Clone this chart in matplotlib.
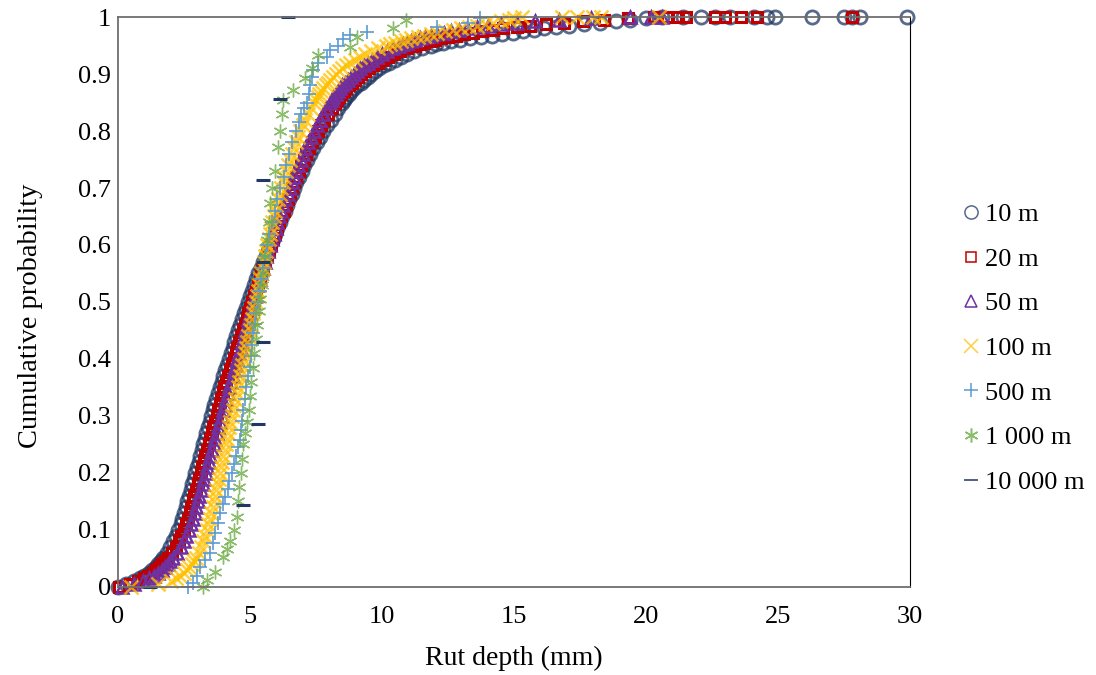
import matplotlib
matplotlib.use("Agg")
import matplotlib.pyplot as plt

# probability levels shared by the four dense series (10 m, 20 m, 50 m, 100 m)
prob = [0.0, 0.005, 0.01, 0.015, 0.02, 0.025, 0.03, 0.035, 0.04, 0.045,
        0.05, 0.06, 0.07, 0.08, 0.09, 0.10, 0.11, 0.12, 0.13, 0.14,
        0.15, 0.16, 0.17, 0.18, 0.19, 0.20, 0.21, 0.22, 0.23, 0.24,
        0.25, 0.26, 0.27, 0.28, 0.29, 0.30, 0.31, 0.32, 0.33, 0.34,
        0.35, 0.36, 0.37, 0.38, 0.39, 0.40, 0.41, 0.42, 0.43, 0.44,
        0.45, 0.46, 0.47, 0.48, 0.49, 0.50, 0.51, 0.52, 0.53, 0.54,
        0.55, 0.56, 0.57, 0.58, 0.59, 0.60, 0.61, 0.62, 0.63, 0.64,
        0.65, 0.66, 0.67, 0.68, 0.69, 0.70, 0.71, 0.72, 0.73, 0.74,
        0.75, 0.76, 0.77, 0.78, 0.79, 0.80, 0.81, 0.82, 0.83, 0.84, 0.85,
        0.855, 0.86, 0.865, 0.87, 0.875, 0.88, 0.885, 0.89, 0.895, 0.90,
        0.905, 0.91, 0.915, 0.92, 0.925, 0.93, 0.935, 0.94, 0.945, 0.95,
        0.9525, 0.955, 0.9575, 0.96, 0.9625, 0.965, 0.9675, 0.97, 0.9725, 0.975,
        0.9775, 0.98, 0.9825, 0.985, 0.9875, 0.99, 0.9925, 0.995, 0.9975, 1.0]

rut_10m = [0.0, 0.3, 0.6, 0.82, 1.0, 1.16, 1.3, 1.42, 1.52, 1.61,
           1.70, 1.85, 1.98, 2.10, 2.20, 2.29, 2.37, 2.44, 2.51, 2.57,
           2.63, 2.69, 2.75, 2.81, 2.87, 2.93, 2.99, 3.05, 3.11, 3.17,
           3.23, 3.29, 3.35, 3.41, 3.47, 3.53, 3.59, 3.65, 3.71, 3.78,
           3.85, 3.92, 3.99, 4.06, 4.13, 4.20, 4.27, 4.34, 4.41, 4.48,
           4.55, 4.62, 4.69, 4.76, 4.84, 4.92, 5.00, 5.08, 5.16, 5.24,
           5.32, 5.41, 5.50, 5.59, 5.68, 5.77, 5.86, 5.95, 6.04, 6.13,
           6.22, 6.31, 6.40, 6.49, 6.58, 6.67, 6.76, 6.86, 6.96, 7.06,
           7.17, 7.28, 7.40, 7.52, 7.65, 7.78, 7.92, 8.06, 8.20, 8.35, 8.50,
           8.57, 8.65, 8.74, 8.84, 8.95, 9.07, 9.20, 9.33, 9.46, 9.60,
           9.75, 9.90, 10.08, 10.28, 10.50, 10.72, 10.95, 11.20, 11.50, 11.85,
           12.05, 12.30, 12.60, 12.95, 13.35, 13.75, 14.15, 14.55, 14.95, 15.35,
           15.75, 16.15, 16.60, 17.10, 17.65, 18.25, 18.85, 19.40, 20.00, 20.60]
tail_10m = [21.4, 22.1, 22.6, 23.2, 24.1, 24.6, 24.9, 26.3, 27.5, 27.8, 28.1, 29.9]

rut_20m = [0.05, 0.45, 0.75, 0.97, 1.15, 1.31, 1.45, 1.57, 1.68, 1.79,
           1.90, 2.05, 2.18, 2.30, 2.40, 2.49, 2.57, 2.64, 2.71, 2.77,
           2.83, 2.89, 2.95, 3.01, 3.07, 3.13, 3.19, 3.25, 3.31, 3.37,
           3.43, 3.49, 3.55, 3.61, 3.67, 3.73, 3.79, 3.85, 3.91, 3.97,
           4.03, 4.10, 4.17, 4.24, 4.31, 4.38, 4.45, 4.52, 4.59, 4.66,
           4.73, 4.80, 4.87, 4.94, 5.01, 5.08, 5.15, 5.22, 5.29, 5.36,
           5.43, 5.50, 5.57, 5.64, 5.71, 5.79, 5.87, 5.95, 6.03, 6.11,
           6.19, 6.27, 6.35, 6.43, 6.51, 6.59, 6.67, 6.76, 6.85, 6.94,
           7.03, 7.13, 7.23, 7.34, 7.45, 7.57, 7.69, 7.82, 7.95, 8.09, 8.23,
           8.30, 8.38, 8.46, 8.55, 8.65, 8.75, 8.86, 8.97, 9.09, 9.22,
           9.36, 9.50, 9.66, 9.83, 10.02, 10.22, 10.44, 10.68, 10.95, 11.25,
           11.42, 11.60, 11.80, 12.00, 12.25, 12.50, 12.80, 13.10, 13.45, 13.80,
           14.20, 14.60, 15.10, 15.60, 16.20, 16.90, 17.60, 18.40, 19.30, 20.30]
tail_20m = [20.8, 21.2, 21.5, 22.6, 23.0, 23.6, 24.2, 27.8]

rut_50m = [0.15, 0.6, 0.95, 1.17, 1.35, 1.51, 1.65, 1.77, 1.88, 1.98,
           2.08, 2.24, 2.37, 2.49, 2.59, 2.68, 2.76, 2.83, 2.90, 2.96,
           3.02, 3.08, 3.14, 3.20, 3.26, 3.32, 3.38, 3.44, 3.50, 3.56,
           3.62, 3.68, 3.74, 3.80, 3.86, 3.92, 3.98, 4.04, 4.10, 4.16,
           4.22, 4.28, 4.34, 4.40, 4.46, 4.52, 4.58, 4.64, 4.70, 4.76,
           4.82, 4.88, 4.94, 5.00, 5.06, 5.12, 5.18, 5.24, 5.30, 5.36,
           5.42, 5.48, 5.55, 5.62, 5.69, 5.76, 5.83, 5.90, 5.97, 6.04,
           6.11, 6.18, 6.26, 6.34, 6.42, 6.50, 6.58, 6.66, 6.74, 6.83,
           6.92, 7.01, 7.10, 7.20, 7.30, 7.41, 7.52, 7.64, 7.76, 7.89, 8.02,
           8.09, 8.16, 8.24, 8.32, 8.41, 8.50, 8.60, 8.70, 8.81, 8.93,
           9.05, 9.18, 9.32, 9.47, 9.63, 9.80, 9.98, 10.18, 10.40, 10.64,
           10.78, 10.93, 11.09, 11.26, 11.44, 11.64, 11.85, 12.08, 12.33, 12.60,
           12.90, 13.22, 13.58, 14.00, 14.50, 15.10, 15.80, 16.70, 17.90, 19.40]
tail_50m = [20.2, 20.6]

rut_100m = [0.5, 1.5, 2.0, 2.2, 2.35, 2.48, 2.6, 2.7, 2.8, 2.88,
            2.95, 3.05, 3.15, 3.23, 3.30, 3.36, 3.42, 3.48, 3.53, 3.58,
            3.63, 3.68, 3.72, 3.77, 3.81, 3.86, 3.90, 3.95, 3.99, 4.04,
            4.08, 4.13, 4.17, 4.22, 4.26, 4.31, 4.35, 4.40, 4.44, 4.49,
            4.53, 4.58, 4.62, 4.67, 4.71, 4.76, 4.80, 4.85, 4.89, 4.94,
            4.98, 5.03, 5.07, 5.12, 5.16, 5.21, 5.25, 5.30, 5.34, 5.39,
            5.43, 5.48, 5.52, 5.57, 5.61, 5.66, 5.70, 5.75, 5.80, 5.85,
            5.90, 5.95, 6.00, 6.06, 6.12, 6.18, 6.24, 6.30, 6.37, 6.44,
            6.51, 6.58, 6.66, 6.74, 6.82, 6.91, 7.00, 7.10, 7.20, 7.31, 7.43,
            7.49, 7.56, 7.63, 7.70, 7.78, 7.86, 7.95, 8.04, 8.14, 8.25,
            8.37, 8.50, 8.64, 8.80, 8.97, 9.15, 9.37, 9.60, 9.86, 10.15,
            10.30, 10.50, 10.70, 10.90, 11.10, 11.35, 11.60, 11.85, 12.10, 12.40,
            12.70, 13.00, 13.30, 13.60, 13.90, 14.20, 14.50, 14.80, 15.00, 15.30]
tail_100m = [16.8, 17.4, 18.0, 18.3, 20.5]

# 500 m segments
rut_500m = [2.65, 2.84, 3.0, 3.11, 3.3, 3.49, 3.6, 3.68, 3.78, 3.87, 3.97, 4.06, 4.15, 4.22,
            4.32, 4.4, 4.47, 4.55, 4.63, 4.67, 4.7, 4.74, 4.8, 4.86, 4.93, 4.98, 5.03, 5.08,
            5.12, 5.18, 5.24, 5.3, 5.36, 5.42, 5.48, 5.55, 5.63, 5.72, 5.82, 5.93, 6.04, 6.15,
            6.27, 6.38, 6.48, 6.6, 6.75, 6.85, 6.92, 7.05, 7.17, 7.22, 7.28, 7.33, 7.4, 7.58,
            7.93, 8.04, 8.34, 8.53, 8.8, 9.44, 12.1, 13.27, 13.73]
prob_500m = [0.0, 0.007, 0.02, 0.035, 0.047, 0.06, 0.078, 0.095, 0.112, 0.13, 0.145, 0.158,
             0.172, 0.186, 0.2, 0.215, 0.23, 0.245, 0.258, 0.275, 0.292, 0.31, 0.33, 0.35,
             0.37, 0.386, 0.405, 0.425, 0.445, 0.462, 0.48, 0.5, 0.52, 0.54, 0.56, 0.58, 0.6,
             0.62, 0.64, 0.66, 0.68, 0.7, 0.72, 0.74, 0.76, 0.78, 0.8, 0.815, 0.83, 0.84, 0.85,
             0.865, 0.88, 0.895, 0.907, 0.919, 0.93, 0.942, 0.95, 0.962, 0.968, 0.974, 0.982,
             0.99, 0.998]

# 1 000 m segments
rut_1000m = [3.2, 3.37, 3.67, 3.98, 4.12, 4.25, 4.38, 4.51, 4.56, 4.6, 4.65, 4.7, 4.74, 4.8,
             4.88, 4.95, 5.0, 5.05, 5.1, 5.16, 5.22, 5.28, 5.33, 5.38, 5.44, 5.5, 5.57, 5.65,
             5.7, 5.76, 5.85, 5.95, 6.07, 6.15, 6.2, 6.26, 6.64, 7.1, 7.36, 7.58, 8.8, 9.06,
             10.4, 10.9]
prob_1000m = [0.0, 0.013, 0.027, 0.053, 0.067, 0.08, 0.1, 0.123, 0.15, 0.175, 0.2, 0.225,
              0.25, 0.27, 0.29, 0.31, 0.335, 0.36, 0.385, 0.41, 0.435, 0.46, 0.485, 0.505,
              0.53, 0.55, 0.58, 0.609, 0.64, 0.674, 0.7, 0.73, 0.772, 0.8, 0.83, 0.854, 0.872,
              0.893, 0.91, 0.933, 0.947, 0.965, 0.98, 0.995]

# 10 000 m segments (8 values)
rut_10000m = [1.2, 4.74, 5.31, 5.5, 5.5, 5.5, 6.14, 6.45]
prob_10000m = [0.0, 0.143, 0.286, 0.429, 0.571, 0.714, 0.857, 1.0]

plt.rcParams['font.family'] = ['Liberation Serif', 'DejaVu Serif']
fs = 19

fig = plt.figure(figsize=(10.96, 6.75), dpi=100)
ax = fig.add_axes([0.1077, 0.1304, 0.7226, 0.8444])

comun = dict(linestyle="none", clip_on=False)

ax.plot(rut_10m + tail_10m, prob + [1.0] * len(tail_10m), marker="o", markersize=9.5,
        markerfacecolor="none", markeredgecolor="#1F3864", markeredgewidth=2.0, alpha=0.75,
        label="10 m", **comun)
ax.plot(rut_20m + tail_20m, prob + [1.0] * len(tail_20m), marker="s", markersize=7.5,
        markerfacecolor="none", markeredgecolor="#C00000", markeredgewidth=2.2,
        label="20 m", **comun)
ax.plot(rut_50m + tail_50m, prob + [1.0] * len(tail_50m), marker="^", markersize=8.5,
        markerfacecolor="none", markeredgecolor="#7030A0", markeredgewidth=1.8,
        label="50 m", **comun)
ax.plot(rut_100m + tail_100m, prob + [1.0] * len(tail_100m), marker="x", markersize=10,
        markeredgecolor="#FFC000", markeredgewidth=1.8, alpha=0.75,
        label="100 m", **comun)
ax.plot(rut_500m, prob_500m, marker="+", markersize=10, markeredgecolor="#5B9BD5",
        markeredgewidth=1.2, label="500 m", **comun)
ax.plot(rut_1000m, prob_1000m, marker=(6, 2, 0), markersize=10, markeredgecolor="#70AD47",
        markeredgewidth=1.0, alpha=0.8, label="1 000 m", **comun)
ax.plot(rut_10000m, prob_10000m, marker="_", markersize=10, markeredgecolor="#1F3864",
        markeredgewidth=2.2, label="10 000 m", **comun)

ax.set_xlim(0, 30)
ax.set_ylim(0, 1)
ax.set_xticks(range(0, 31, 5))
yt = [i / 10 for i in range(11)]
ax.set_yticks(yt)
ax.set_yticklabels(["0"] + ["%.1f" % v for v in yt[1:-1]] + ["1"])
ax.tick_params(length=0, labelsize=fs)
ax.tick_params(axis="y", pad=5)
ax.tick_params(axis="x", pad=14)

for lado in ["left", "bottom", "top"]:
    ax.spines[lado].set_color("#6E6E6E")
    ax.spines[lado].set_linewidth(1.3)
ax.spines["right"].set_color("black")
ax.spines["right"].set_linewidth(0.8)

ax.set_xlabel("Rut depth (mm)", fontsize=20)
ax.set_ylabel("Cumulative probability", fontsize=20.5)
ax.xaxis.set_label_coords(0.5, -0.125)
ax.xaxis.label.set_va("center")
ax.yaxis.set_label_coords(-0.111, 0.475)
ax.yaxis.label.set_va("center")

leg = fig.legend(loc="center left", bbox_to_anchor=(0.866, 0.484), frameon=False,
                 fontsize=fs, handlelength=0.66, handletextpad=0.2, labelspacing=0.8,
                 borderpad=0)
for h in leg.legend_handles:
    h.set_markeredgewidth(1.1)

fig.savefig("out.png", dpi=100)
